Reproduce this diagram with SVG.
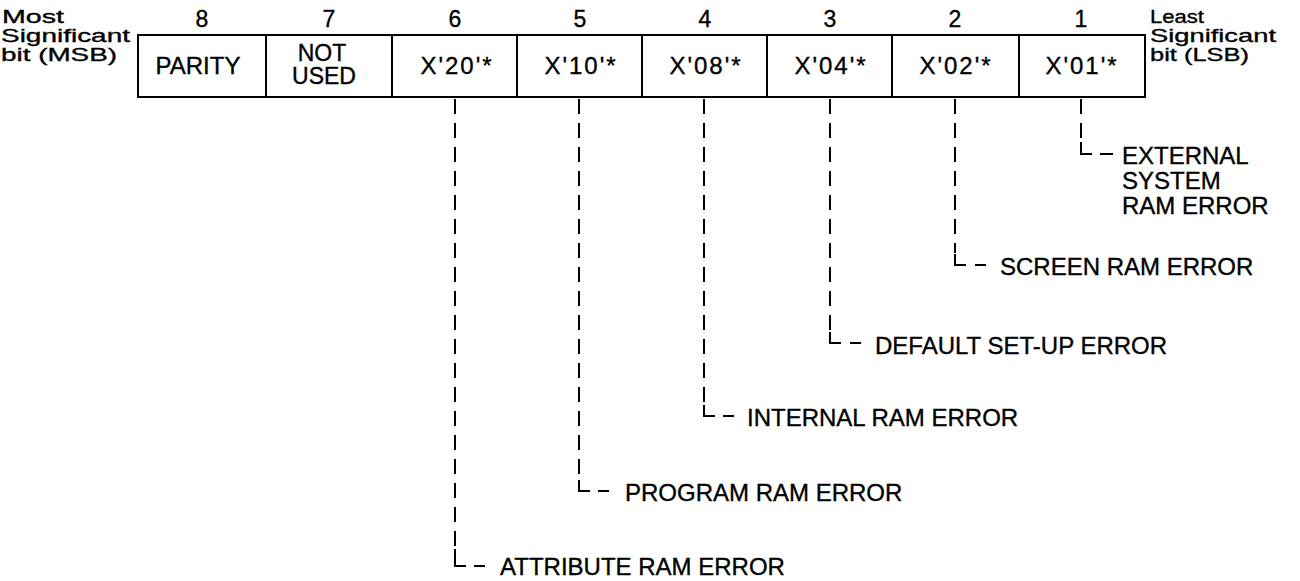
<svg xmlns="http://www.w3.org/2000/svg" width="1300" height="581" viewBox="0 0 1300 581">
<style>
text{font-family:"Liberation Sans",Arial,sans-serif;fill:#000;stroke:#000;stroke-width:0.35}
.hd{font-size:19px}
.num{font-size:23px;text-anchor:middle}
.cell{font-size:24px;text-anchor:middle}
.cell2{font-size:23px;text-anchor:middle}
.hex{font-size:24px;text-anchor:middle;letter-spacing:2px}
.lbl{font-size:24px}
.box{fill:#fff;stroke:#000;stroke-width:2}
.div{stroke:#000;stroke-width:2}
.dash{fill:none;stroke:#000;stroke-width:2;stroke-dasharray:15 9}
.ell{fill:none;stroke:#000;stroke-width:2}
</style>
<rect width="1300" height="581" fill="#fff"/>
<g id="header-msb">
<text class="hd" x="2" y="23" textLength="62" lengthAdjust="spacingAndGlyphs">Most</text>
<text class="hd" x="1" y="42" textLength="129" lengthAdjust="spacingAndGlyphs">Significant</text>
<text class="hd" x="1" y="61" textLength="116" lengthAdjust="spacingAndGlyphs">bit (MSB)</text>
</g>
<g id="header-lsb">
<text class="hd" x="1150" y="23" textLength="54" lengthAdjust="spacingAndGlyphs">Least</text>
<text class="hd" x="1150" y="42" textLength="126" lengthAdjust="spacingAndGlyphs">Significant</text>
<text class="hd" x="1150" y="61" textLength="99" lengthAdjust="spacingAndGlyphs">bit (LSB)</text>
</g>
<g id="bit-numbers">
<text class="num" x="202" y="27">8</text>
<text class="num" x="329" y="27">7</text>
<text class="num" x="455" y="27">6</text>
<text class="num" x="580" y="27">5</text>
<text class="num" x="705" y="27">4</text>
<text class="num" x="830" y="27">3</text>
<text class="num" x="955" y="27">2</text>
<text class="num" x="1081" y="27">1</text>
</g>
<g id="register">
<rect class="box" x="138" y="35" width="1007" height="62"/>
<line class="div" x1="266" y1="35" x2="266" y2="97"/>
<line class="div" x1="392" y1="35" x2="392" y2="97"/>
<line class="div" x1="517" y1="35" x2="517" y2="97"/>
<line class="div" x1="642" y1="35" x2="642" y2="97"/>
<line class="div" x1="767" y1="35" x2="767" y2="97"/>
<line class="div" x1="892" y1="35" x2="892" y2="97"/>
<line class="div" x1="1019" y1="35" x2="1019" y2="97"/>
</g>
<g id="bit8"><text class="cell" x="198" y="74">PARITY</text></g>
<g id="bit7"><text class="cell2" x="322" y="61">NOT</text><text class="cell2" x="324" y="84">USED</text></g>
<g id="bit6"><text class="hex" x="457" y="74">X'20'*</text></g>
<g id="bit5"><text class="hex" x="581" y="74">X'10'*</text></g>
<g id="bit4"><text class="hex" x="706" y="74">X'08'*</text></g>
<g id="bit3"><text class="hex" x="831" y="74">X'04'*</text></g>
<g id="bit2"><text class="hex" x="956" y="74">X'02'*</text></g>
<g id="bit1"><text class="hex" x="1082" y="74">X'01'*</text></g>
<g id="connectors">
<path class="dash" d="M1081 99 V141"/>
<path class="ell" d="M1081 142 V154 H1092 M1100 154 H1113"/>
<path class="dash" d="M955 99 V253"/>
<path class="ell" d="M955 254 V265 H966 M975 265 H986"/>
<path class="dash" d="M830 99 V331"/>
<path class="ell" d="M830 332 V343 H841 M850 343 H861"/>
<path class="dash" d="M704 99 V404"/>
<path class="ell" d="M704 405 V416 H715 M723 416 H734"/>
<path class="dash" d="M579 99 V479"/>
<path class="ell" d="M579 480 V491 H590 M598 491 H609"/>
<path class="dash" d="M455 99 V548"/>
<path class="ell" d="M455 549 V566 H466 M474 566 H485"/>
</g>
<g id="label-bit1">
<text class="lbl" x="1122" y="164">EXTERNAL</text>
<text class="lbl" x="1122" y="189">SYSTEM</text>
<text class="lbl" x="1122" y="214">RAM ERROR</text>
</g>
<g id="label-bit2"><text class="lbl" x="1000" y="275">SCREEN RAM ERROR</text></g>
<g id="label-bit3"><text class="lbl" x="875" y="354">DEFAULT SET-UP ERROR</text></g>
<g id="label-bit4"><text class="lbl" x="747" y="426">INTERNAL RAM ERROR</text></g>
<g id="label-bit5"><text class="lbl" x="625" y="501">PROGRAM RAM ERROR</text></g>
<g id="label-bit6"><text class="lbl" x="500" y="575">ATTRIBUTE RAM ERROR</text></g>
</svg>
